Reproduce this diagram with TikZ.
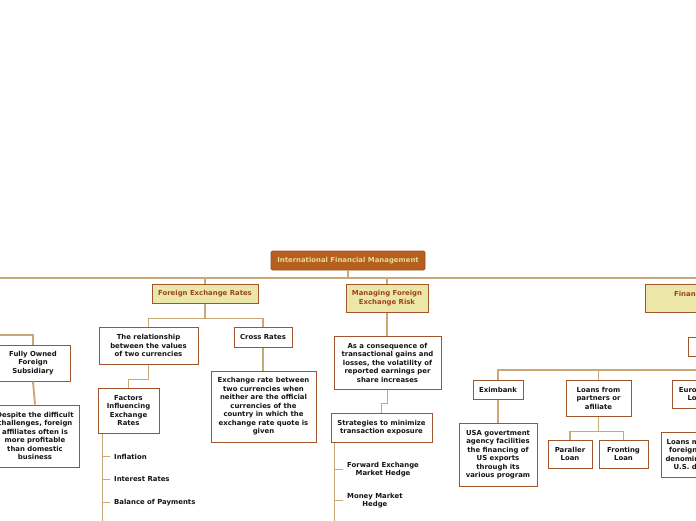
\documentclass[tikz,border=0pt]{standalone}
\usepackage{fontspec}
\setmainfont{DejaVu Sans}
\definecolor{rootfill}{HTML}{B5601F}
\definecolor{rootdraw}{HTML}{9A4E18}
\definecolor{roottext}{HTML}{E3DC95}
\definecolor{lonefill}{HTML}{ECE7A8}
\definecolor{lonetext}{HTML}{9C4519}
\definecolor{boxdraw}{HTML}{A0552C}
\definecolor{conn}{HTML}{C9A878}
\definecolor{txt}{HTML}{151515}
\begin{document}
\begin{tikzpicture}[x=1pt,y=-1pt,
  every node/.style={font=\bfseries\fontsize{6.9}{8.5}\selectfont, inner sep=1pt, align=center},
  rootbox/.style={draw=rootdraw, fill=rootfill, text=roottext, rounded corners=1.5pt, line width=0.8pt},
  lonebox/.style={draw=boxdraw, fill=lonefill, text=lonetext, line width=1pt},
  plainbox/.style={draw=boxdraw, fill=white, text=txt, line width=1pt},
  leaf/.style={text=txt, inner xsep=4pt, anchor=west},
  link/.style={draw=conn, line width=1.9pt},
  sz/.style 2 args={minimum width=#1pt, minimum height=#2pt}
]
\useasboundingbox (0,0) rectangle (696,520);
\clip (0,0) rectangle (696,520);
\fill[white] (0,0) rectangle (696,520);

% coordinates for bus ends
\coordinate (busL) at (-5,278);
\coordinate (busR) at (760,278);
\coordinate (lb) at (-5,335);

% nodes
\node[rootbox, sz={154}{19}] (root) at (348,260.5) {International Financial Management};
\node[lonebox, sz={106}{19}] (fer) at (205,293.5) {Foreign Exchange Rates};
\node[lonebox, sz={82}{28}] (mfer) at (387,298) {Managing Foreign\\Exchange Risk};
\node[lonebox, sz={128}{28}] (fin) at (709,298) {Financing Foreign\\Trade};

\node[plainbox, sz={74}{36}] (fos) at (33,363) {Fully Owned\\Foreign\\Subsidiary};
\node[plainbox, sz={88}{62}] (desp) at (35,436) {Despite the difficult\\challenges, foreign\\affiliates often is\\more profitable\\than domestic\\business};

\node[plainbox, sz={99}{37}] (rel) at (148.5,345.5) {The relationship\\between the values\\of two currencies};
\node[plainbox, sz={58}{20}] (cross) at (263,337) {Cross Rates};
\node[plainbox, sz={61}{45}] (fact) at (128.5,410.5) {Factors\\Influencing\\Exchange\\Rates};
\node[plainbox, sz={105}{71}] (exch) at (263.5,406.5) {Exchange rate between\\two currencies when\\neither are the official\\currencies of the\\country in which the\\exchange rate quote is\\given};

\node[plainbox, sz={107}{53}] (cons) at (387.5,362.5) {As a consequence of\\transactional gains and\\losses, the volatility of\\reported earnings per\\share increases};
\node[plainbox, sz={101}{29}] (strat) at (381.5,427.5) {Strategies to minimize\\transaction exposure};

\node[plainbox, sz={87}{19}] (fsrc) at (731.5,346.5) {Financing Sources};
\node[plainbox, sz={50}{19}] (exim) at (498,389.5) {Eximbank};
\node[plainbox, sz={65}{36}] (loans) at (598.5,398) {Loans from\\partners or\\afiliate};
\node[plainbox, sz={54}{28}] (euro) at (699,394) {Eurodollar\\Loans};
\node[plainbox, sz={78}{63}] (usa) at (498,454.5) {USA govertment\\agency facilities\\the financing of\\US exports\\through its\\various program};
\node[plainbox, sz={44}{28}] (par) at (570,454) {Paraller\\Loan};
\node[plainbox, sz={49}{28}] (fro) at (623.5,454) {Fronting\\Loan};
\node[plainbox, sz={70}{45}] (eurod) at (696,454.5) {Loans made by\\foreign banks\\denominated in\\U.S. dollars};

% leaves
\node[leaf] (infl) at (110,456.5) {Inflation};
\node[leaf] (intr) at (110,479.5) {Interest Rates};
\node[leaf] (bop) at (110,502.5) {Balance of Payments};
\node[leaf] (fwd) at (343,469.5) {Forward Exchange\\Market Hedge};
\node[leaf] (mmh) at (343,500.5) {Money Market\\Hedge};

\coordinate (fv) at ([xshift=5pt]fact.south west);
\coordinate (fvEnd) at ([xshift=5pt]fact.south west |- 0,530);
\coordinate (sv) at ([xshift=4pt]strat.south west);
\coordinate (svEnd) at ([xshift=4pt]strat.south west |- 0,530);

% connectors
\path[link] (busL) -- (busR);
\path[link] (root.south) -- (root.south |- busL);
\path[link] (fer.north) -- (fer.north |- busL);
\path[link] (mfer.north) -- (mfer.north |- busL);
\path[link] (fin.north) -- (fin.north |- busL);
\path[link] (lb) -| (fos.north);
\path[link] (fos.south) -- (desp.north);

\path[link] (fer.south) -- ++(0,15) coordinate (ferj);
\path[link] (rel.north) |- (ferj);
\path[link] (cross.north) |- (ferj);
\path[link] (rel.south) -- ++(0,15) -| (fact.north);
\path[link] (cross.south) -- (cross.south |- exch.north);
\path[link] (fv) -- (fvEnd);
\path[link] (infl.west) -- (infl.west -| fv);
\path[link] (intr.west) -- (intr.west -| fv);
\path[link] (bop.west) -- (bop.west -| fv);

\path[link] (mfer.south) -- (mfer.south |- cons.north);
\path[link] (cons.south) -- ++(0,14) -| (strat.north);
\path[link] (sv) -- (svEnd);
\path[link] (fwd.west) -- (fwd.west -| sv);
\path[link] (mmh.west) -- (mmh.west -| sv);

\path[link] (fin.south) -- (fin.south |- fsrc.north);
\path[link] (fsrc.south) -- ++(0,13.5) coordinate (rj);
\path[link] (exim.north) |- (rj);
\path[link] (loans.north) |- (rj);
\path[link] (euro.north) |- (rj);
\path[link] (exim.south) -- (usa.north);
\path[link] (loans.south) -- ++(0,15) coordinate (lj);
\path[link] (par.north) |- (lj);
\path[link] (fro.north) |- (lj);
\path[link] (euro.south) -- (euro.south |- eurod.north);
\end{tikzpicture}
\end{document}
